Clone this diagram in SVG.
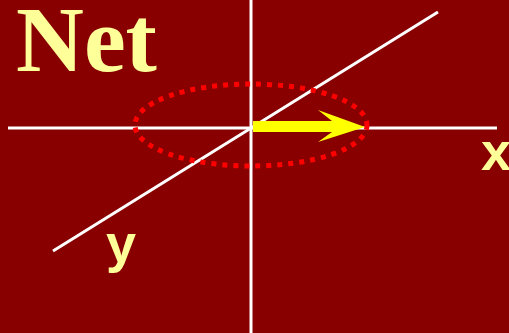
<svg xmlns="http://www.w3.org/2000/svg" width="509" height="333" viewBox="0 0 509 333">
<style>
.ax{stroke:#FFFFFF;stroke-width:3;fill:none}
.lbl{font-family:"Liberation Sans",Arial,sans-serif;font-weight:bold;font-size:54px;fill:#FFFF99}
</style>
<rect width="509" height="333" fill="#880000"/>
<text x="16" y="71" font-family="'Liberation Serif','Times New Roman',serif" font-weight="bold" font-size="94" fill="#FFFF99">Net</text>
<g id="axes">
<line class="ax" x1="8" y1="128" x2="497" y2="128"/>
<line class="ax" x1="251" y1="0" x2="251" y2="333"/>
<line class="ax" x1="53" y1="251" x2="438" y2="12"/>
</g>
<ellipse id="ring" cx="251" cy="125" rx="116" ry="41" fill="none" stroke="#FF0000" stroke-width="5" stroke-dasharray="5 6"/>
<polygon id="arrow" points="253,121 332,121 318,110 365,127 318,142 332,132 253,132" fill="#FFFF00"/>
<text class="lbl" x="481" y="170">x</text>
<text class="lbl" x="106" y="262">y</text>
</svg>
